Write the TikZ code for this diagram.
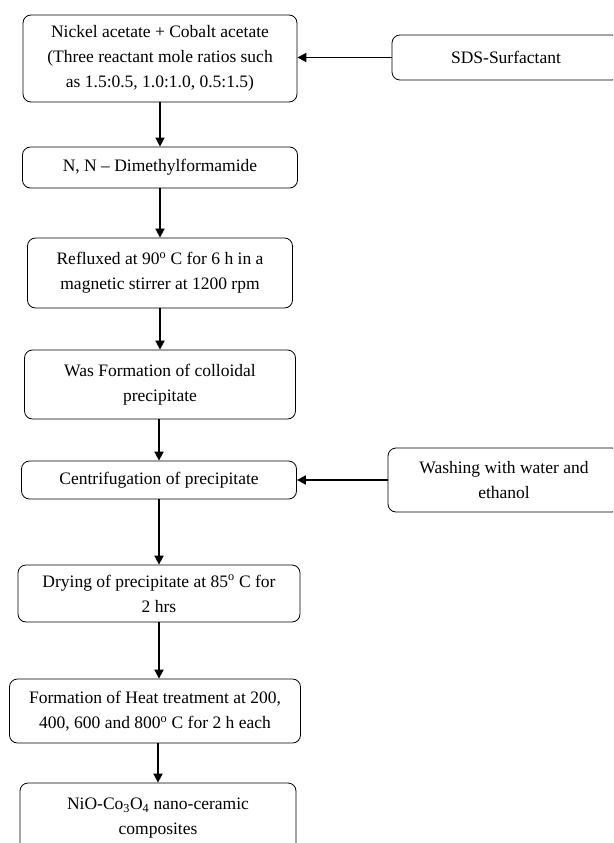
\documentclass[tikz,border=0pt]{standalone}
\usepackage{fontspec}
\setmainfont{Liberation Serif}
\usetikzlibrary{arrows.meta,positioning}

\begin{document}
\begin{tikzpicture}[x=1pt, y=-1pt,
    stepbox/.style={rectangle, rounded corners=8pt, draw=black, line width=0.8pt,
        align=center, inner sep=0pt, font=\fontsize{17.5}{25}\selectfont},
    arr/.style={-{Triangle[length=9pt, width=9pt]}, line width=1.8pt}
]
    \useasboundingbox (0,0) rectangle (613,843);
    \clip (0,0) rectangle (613,843);

    % main column
    \node[stepbox, minimum width=274pt, minimum height=87pt] (mix) at (160,58.5)
        {Nickel acetate + Cobalt acetate\\(Three reactant mole ratios such\\as 1.5:0.5, 1.0:1.0, 0.5:1.5)};
    \node[stepbox, minimum width=275pt, minimum height=41pt] (dmf) at (160,167.5)
        {N, N -- Dimethylformamide};
    \node[stepbox, minimum width=265pt, minimum height=70pt] (reflux) at (160,273)
        {Refluxed at 90\textsuperscript{o} C for 6 h in a\\magnetic stirrer at 1200 rpm};
    \node[stepbox, minimum width=271pt, minimum height=69pt] (colloid) at (160,384.5)
        {Was Formation of colloidal\\precipitate};
    \node[stepbox, minimum width=275pt, minimum height=38pt] (centri) at (159,480)
        {Centrifugation of precipitate};
    \node[stepbox, minimum width=282pt, minimum height=57pt] (dry) at (159,593.5)
        {Drying of precipitate at 85\textsuperscript{o} C for\\2 hrs};
    \node[stepbox, minimum width=291pt, minimum height=64pt] (heat) at (155,711)
        {Formation of Heat treatment at 200,\\400, 600 and 800\textsuperscript{o} C for 2 h each};
    \node[stepbox, minimum width=276pt, minimum height=70pt] (product) at (158,818)
        {NiO-Co\textsubscript{3}O\textsubscript{4} nano-ceramic\\composites};

    % side inputs
    \node[stepbox, minimum width=228pt, minimum height=45pt] (sds) at (506,57.5)
        {SDS-Surfactant};
    \node[stepbox, minimum width=232pt, minimum height=64pt] (wash) at (504,480)
        {Washing with water and\\ethanol};

    \draw[arr] (dmf.north |- mix.south) -- (dmf.north);
    \draw[arr] (reflux.north |- dmf.south) -- (reflux.north);
    \draw[arr] (colloid.north |- reflux.south) -- (colloid.north);
    \draw[arr] (centri.north |- colloid.south) -- (centri.north);
    \draw[arr] (dry.north |- centri.south) -- (dry.north);
    \draw[arr] (dry.south) -- (dry.south |- heat.north);
    \draw[arr] (product.north |- heat.south) -- (product.north);

    \draw[arr] (sds.west) -- (sds.west -| mix.east);
    \draw[arr] (wash.west) -- (wash.west -| centri.east);
\end{tikzpicture}
\end{document}
